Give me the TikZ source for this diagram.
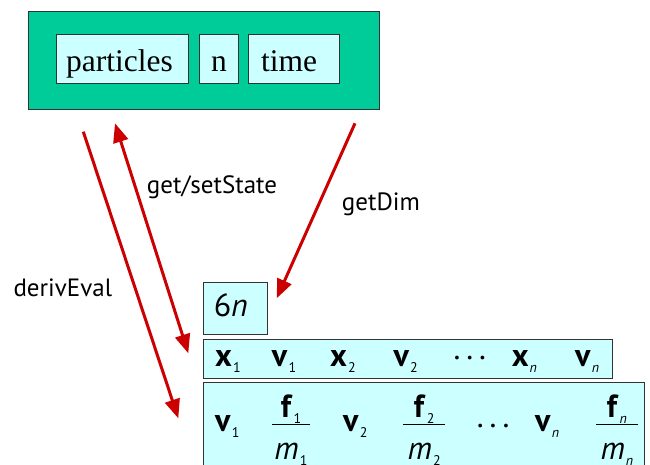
\documentclass[tikz,border=0pt]{standalone}
\usepackage{fontspec}
\setmainfont{Liberation Serif}
\setsansfont{PT Sans}
\usetikzlibrary{arrows.meta}
\definecolor{boxgreen}{HTML}{00CC99}
\definecolor{cellcyan}{HTML}{CCFFFF}
\definecolor{callred}{HTML}{CC0000}
\newcommand\sub[1]{\raisebox{-6pt}{\fontsize{14}{14}\selectfont #1}}
\newcommand\bvec[2]{\textbf{#1}\hspace{1pt}\sub{#2}}
\newcommand\hdots{.\hspace{6pt}.\hspace{6pt}.}
\tikzset{
  cell/.style={draw=black!80, fill=cellcyan, line width=1pt, inner ysep=0pt},
  field/.style={cell, anchor=base west, font=\fontsize{31.5}{31.5}\selectfont,
    text height=37.4, text depth=12},
  tip/.style={Triangle[length=19pt,width=15pt]},
  call/.style={draw=callred, line width=3pt, -{Triangle[length=19pt,width=15pt]}},
  lbl/.style={font=\sffamily\fontsize{25}{25}\selectfont, anchor=base west, inner sep=0pt},
  sym/.style={font=\sffamily\fontsize{32}{32}\selectfont, anchor=base west, inner sep=0pt}
}
\begin{document}
\begin{tikzpicture}[x=1pt, y=-1pt]
  \path[use as bounding box, clip] (0,0) rectangle (650,464);
  % the system object
  \node[draw=black!80, fill=boxgreen, line width=1pt, anchor=north west,
    minimum width=351.6, minimum height=98.3] (sys) at (27.7,11) {};
  \node[field, inner xsep=10, text width=112, align=left] (particles) at (55.7,71.7) {particles};
  \node[field, inner xsep=0, text width=39.6, align=center] (n) at (198.7,71.7) {n};
  \node[field, inner xsep=12.4, text width=66.2, align=left] (time) at (248.3,71.7) {time};
  % state vectors
  \node[cell, sym, inner xsep=10, text height=34, text depth=17.3, text width=44,
    align=left] (dim) at (203.3,316.7) {6\textit{n}};
  \node[cell, anchor=north west, minimum width=408.7, minimum height=39.3] (state) at (203.3,339) {};
  \node[cell, anchor=north west, minimum width=440.7, minimum height=110] (deriv) at (203.3,381.7) {};
  \foreach \px/\t [count=\i] in {215/{\bvec{x}{1}}, 271.7/{\bvec{v}{1}}, 330/{\bvec{x}{2}},
      393.3/{\bvec{v}{2}}, 453.3/{\raisebox{7.5pt}{\hdots}}, 511.7/{\bvec{x}{\itshape n}},
      575/{\bvec{v}{\itshape n}}}
    \node[sym] (s\i) at (\px,366.7) {\t};
  \foreach \px/\t [count=\i] in {215/{\bvec{v}{1}}, 343/{\bvec{v}{2}},
      476.7/{\raisebox{4pt}{\hdots}}, 535/{\bvec{v}{\itshape n}}}
    \node[sym] (d\i) at (\px,431) {\t};
  \foreach \cx/\w/\k in {291/38.3/1, 424.2/41.7/2, 616.9/41.7/{\itshape n}} {
    \node[sym, anchor=base] (f\cx) at (\cx,417) {\bvec{f}{\k}};
    \draw[line width=1.2pt] (\cx-\w/2,424.3) -- (\cx+\w/2,424.3);
    \node[sym, anchor=base] (m\cx) at (\cx,459) {\textit{m}\hspace{1pt}\sub{\k}};
  }
  % calls
  \coordinate (evalTop) at (83.3,131.7);
  \coordinate (evalEnd) at (178.3,418.3);
  \coordinate (stateTop) at (115,123.3);
  \coordinate (stateEnd) at (188.3,353.3);
  \coordinate (dimTop) at (355,123.3);
  \coordinate (dimEnd) at (276.7,298.3);
  \draw[call] (evalTop) -- (evalEnd);
  \draw[call, {Triangle[length=19pt,width=15pt]}-{Triangle[length=19pt,width=15pt]}] (stateTop) -- (stateEnd);
  \draw[call] (dimTop) -- (dimEnd);
  \node[lbl] (lstate) at (146.7,193.3) {get/setState};
  \node[lbl] (ldim) at (341.7,210) {getDim};
  \node[lbl] (leval) at (13.3,296.7) {derivEval};
\end{tikzpicture}
\end{document}
